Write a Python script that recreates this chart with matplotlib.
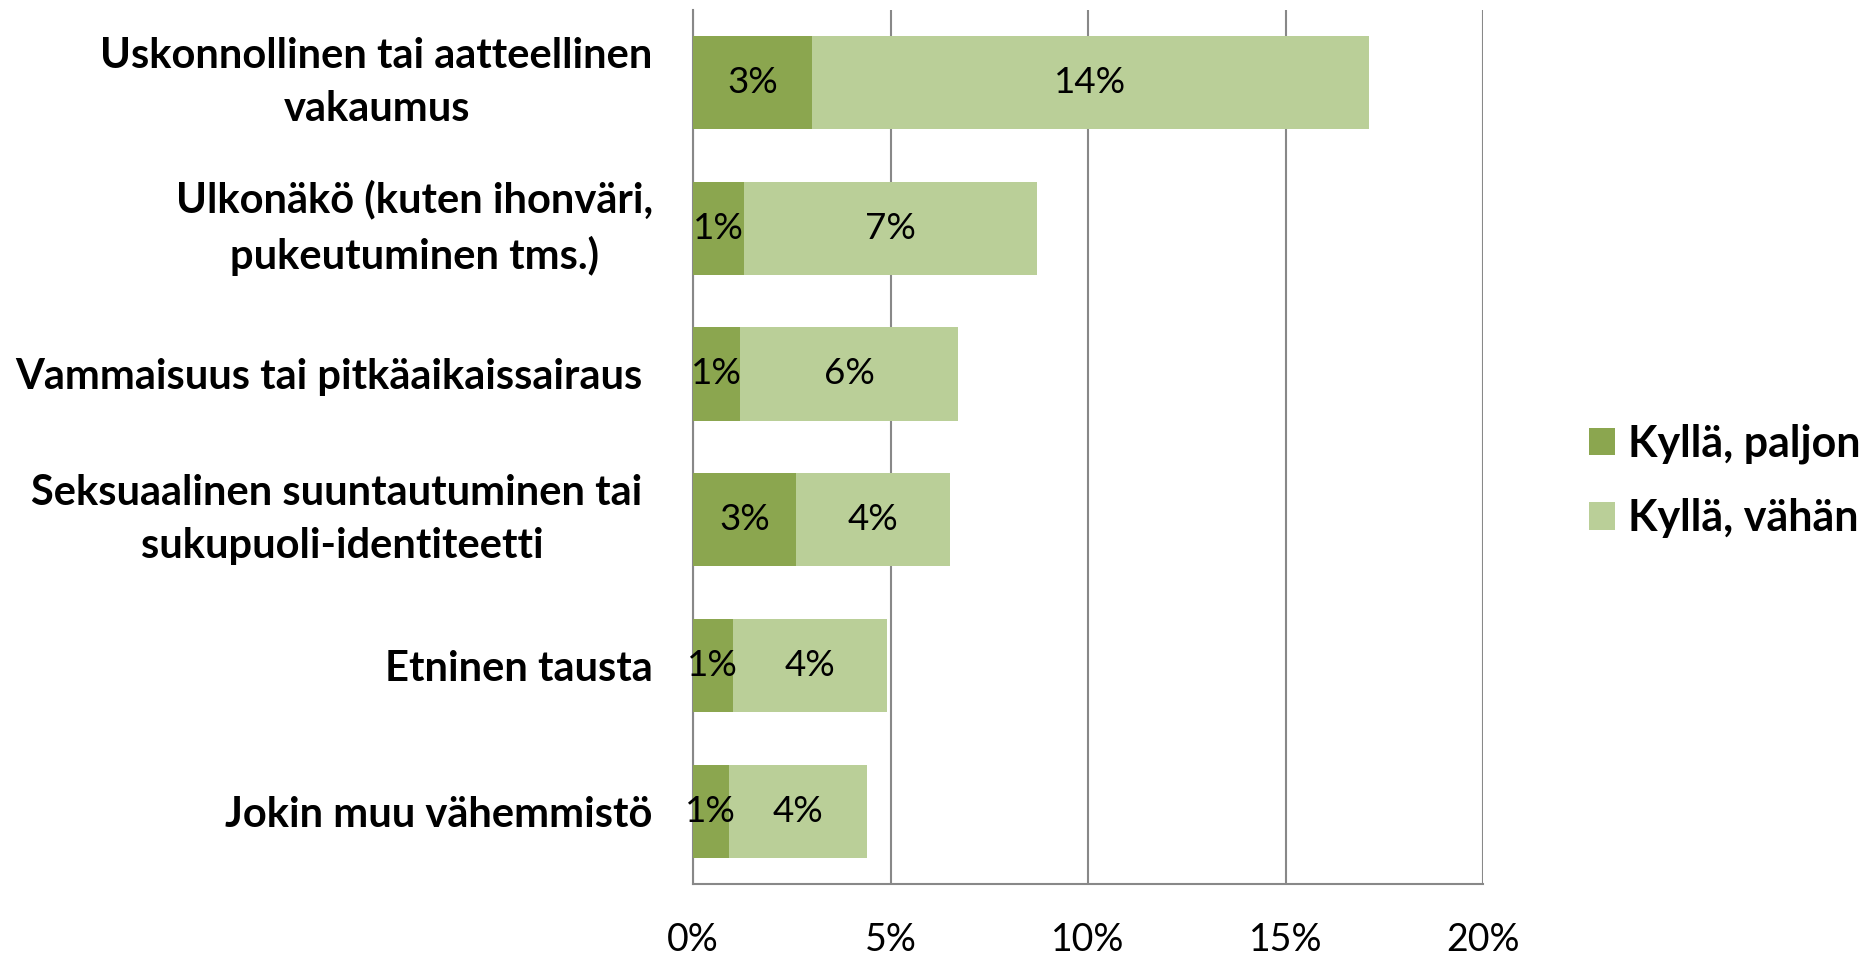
import matplotlib
matplotlib.use("Agg")
import matplotlib.pyplot as plt
import numpy as np

plt.rcParams['font.family'] = ['Lato', 'DejaVu Sans']

categories = ["Uskonnollinen tai aatteellinen\nvakaumus",
              "Ulkonäkö (kuten ihonväri,\npukeutuminen tms.)",
              "Vammaisuus tai pitkäaikaissairaus ",
              "Seksuaalinen suuntautuminen tai \nsukupuoli-identiteetti",
              "Etninen tausta",
              "Jokin muu vähemmistö"]
paljon = [3.0, 1.3, 1.2, 2.6, 1.0, 0.9]
vahan = [14.1, 7.4, 5.5, 3.9, 3.9, 3.5]
paljon_labels = ["3%", "1%", "1%", "3%", "1%", "1%"]
vahan_labels = ["14%", "7%", "6%", "4%", "4%", "4%"]
xticks = [0, 5, 10, 15, 20]

dark = '#8BA64F'
light = '#BACF98'
gridc = '#888888'

fig = plt.figure(figsize=(18.68, 9.56), dpi=100)
ax = fig.add_axes([0.371, 0.0753, 0.423, 0.9147])

y = np.arange(len(categories))
h = 0.64
b1 = ax.barh(y, paljon, height=h, color=dark, label='Kyllä, paljon', zorder=3)
b2 = ax.barh(y, vahan, left=paljon, height=h, color=light, label='Kyllä, vähän', zorder=3)
ax.bar_label(b1, labels=paljon_labels, label_type='center', fontsize=26.5, color='black', zorder=4)
ax.bar_label(b2, labels=vahan_labels, label_type='center', fontsize=26.5, color='black', zorder=4)

ax.set_ylim(len(categories) - 0.5, -0.5)
ax.set_xlim(0, 20)
ax.set_xticks(xticks)
ax.set_xticklabels([f"{t}%" for t in xticks], fontsize=27)
ax.tick_params(axis='x', length=0, pad=27)
ax.set_yticks(y)
ax.set_yticklabels(categories, fontsize=30, fontweight='bold', multialignment='center',
                   linespacing=1.5)
ax.tick_params(axis='y', length=0, pad=29)
# two-line labels: centre the block on the bar
for lbl in ax.get_yticklabels():
    if '\n' in lbl.get_text():
        lbl.set_va('center')

ax.grid(axis='x', color=gridc, linewidth=1.5, zorder=0)
ax.set_axisbelow(True)
for s in ['top', 'right']:
    ax.spines[s].set_visible(False)
for s in ['left', 'bottom']:
    ax.spines[s].set_color(gridc)
    ax.spines[s].set_linewidth(1.5)

fig.legend(handles=[b1, b2], loc='center left', bbox_to_anchor=(0.830, 0.497),
           frameon=False, prop={'size': 31, 'weight': 'bold'},
           handlelength=0.6, handleheight=0.6, handletextpad=0.3, labelspacing=0.8)

fig.savefig('out.png', dpi=100)
